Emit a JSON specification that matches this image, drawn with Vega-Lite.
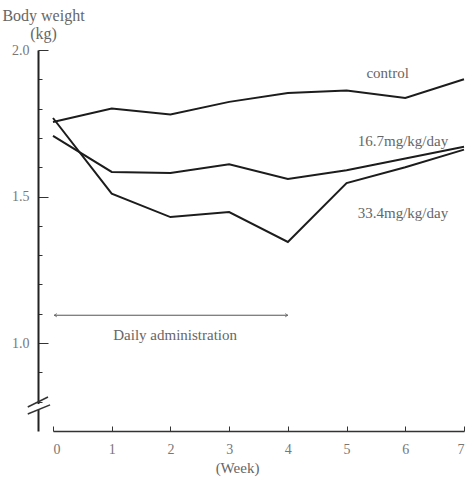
{
  "$schema": "https://vega.github.io/schema/vega-lite/v6.json",
  "width": 411,
  "height": 381,
  "autosize": "none",
  "padding": {"left": 53, "top": 50, "right": 1, "bottom": 50},
  "background": "white",
  "config": {
    "view": {"stroke": null},
    "font": "Liberation Serif",
    "text": {"font": "Liberation Serif", "color": "#666"}
  },
  "datasets": {
    "series": [
      {"week": 0, "bw": 1.754, "group": "control"},
      {"week": 1, "bw": 1.80, "group": "control"},
      {"week": 2, "bw": 1.78, "group": "control"},
      {"week": 3, "bw": 1.823, "group": "control"},
      {"week": 4, "bw": 1.853, "group": "control"},
      {"week": 5, "bw": 1.862, "group": "control"},
      {"week": 6, "bw": 1.836, "group": "control"},
      {"week": 7, "bw": 1.90, "group": "control"},
      {"week": 0, "bw": 1.707, "group": "16.7"},
      {"week": 1, "bw": 1.584, "group": "16.7"},
      {"week": 2, "bw": 1.58, "group": "16.7"},
      {"week": 3, "bw": 1.61, "group": "16.7"},
      {"week": 4, "bw": 1.56, "group": "16.7"},
      {"week": 5, "bw": 1.59, "group": "16.7"},
      {"week": 6, "bw": 1.63, "group": "16.7"},
      {"week": 7, "bw": 1.67, "group": "16.7"},
      {"week": 0, "bw": 1.768, "group": "33.4"},
      {"week": 1, "bw": 1.51, "group": "33.4"},
      {"week": 2, "bw": 1.43, "group": "33.4"},
      {"week": 3, "bw": 1.447, "group": "33.4"},
      {"week": 4, "bw": 1.345, "group": "33.4"},
      {"week": 5, "bw": 1.546, "group": "33.4"},
      {"week": 6, "bw": 1.60, "group": "33.4"},
      {"week": 7, "bw": 1.66, "group": "33.4"}
    ],
    "labels": [
      {"week": 5.7, "bw": 1.92, "label": "control"},
      {"week": 5.96, "bw": 1.69, "label": "16.7mg/kg/day"},
      {"week": 5.96, "bw": 1.444, "label": "33.4mg/kg/day"},
      {"week": 2.08, "bw": 1.027, "label": "Daily administration"}
    ],
    "arrow": [
      {"x1": 0.02, "x2": 4.0, "bw": 1.095}
    ],
    "heads": [
      {"week": 0.02, "bw": 1.095, "dir": "left"},
      {"week": 4.0, "bw": 1.095, "dir": "right"}
    ],
    "breakgap": [
      {"x": -0.2555, "y1": 0.772, "y2": 0.792}
    ],
    "slashes": [
      {"x1": -0.43, "x2": -0.085, "y1": 0.782, "y2": 0.816},
      {"x1": -0.43, "x2": -0.05, "y1": 0.758, "y2": 0.789}
    ]
  },
  "encoding": {},
  "layer": [
    {
      "data": {"name": "series"},
      "mark": {"type": "line", "color": "#1c1c1c", "strokeWidth": 2, "strokeJoin": "miter"},
      "encoding": {
        "x": {
          "field": "week", "type": "quantitative",
          "scale": {"domain": [0, 7], "nice": false, "zero": false},
          "axis": {
            "values": [0, 1, 2, 3, 4, 5, 6, 7],
            "tickCount": 20,
            "format": "d",
            "grid": false,
            "labelOverlap": false,
            "domainColor": "#333",
            "domainWidth": 1.5,
            "tickColor": "#333",
            "tickWidth": 1,
            "tickSize": -5,
            "labelPadding": 16,
            "labelFont": "Liberation Serif",
            "labelFontSize": 14,
            "labelColor": "#777",
            "title": "(Week)",
            "titleX": 184,
            "titleAlign": "center",
            "titleFont": "Liberation Serif",
            "titleFontSize": 15,
            "titleFontWeight": "normal",
            "titleColor": "#666",
            "titlePadding": 4
          }
        },
        "y": {
          "field": "bw", "type": "quantitative",
          "scale": {"domain": [0.7, 2.0], "nice": false, "zero": false},
          "axis": {
            "values": [0.8, 0.9, 1.0, 1.1, 1.2, 1.3, 1.4, 1.5, 1.6, 1.7, 1.8, 1.9, 2.0],
            "tickCount": 30,
            "labelExpr": "abs(datum.value*2 - round(datum.value*2)) < 0.01 ? format(datum.value, '.1f') : ''",
            "labelOverlap": false,
            "labelBound": false,
            "offset": 15,
            "grid": false,
            "domainColor": "#222",
            "domainWidth": 2,
            "tickColor": "#333",
            "tickWidth": 1,
            "tickSize": {"condition": {"test": "abs(datum.value*2 - round(datum.value*2)) < 0.01", "value": -10}, "value": -4},
            "labelPadding": 19,
            "labelFont": "Liberation Serif",
            "labelFontSize": 14,
            "labelColor": "#777",
            "title": ["Body weight", "(kg)"],
            "titleAngle": 0,
            "titleAlign": "center",
            "titleBaseline": "top",
            "titleX": 5,
            "titleY": -43,
            "titleLineHeight": 18,
            "titleFont": "Liberation Serif",
            "titleFontSize": 16,
            "titleFontWeight": "normal",
            "titleColor": "#666"
          }
        },
        "detail": {"field": "group"}
      }
    },
    {
      "data": {"name": "labels"},
      "mark": {"type": "text", "fontSize": 15, "color": "#666", "align": "center", "baseline": "middle"},
      "encoding": {
        "x": {"field": "week", "type": "quantitative"},
        "y": {"field": "bw", "type": "quantitative"},
        "text": {"field": "label"}
      }
    },
    {
      "data": {"name": "arrow"},
      "mark": {"type": "rule", "color": "#555", "strokeWidth": 1},
      "encoding": {
        "x": {"field": "x1", "type": "quantitative"},
        "x2": {"field": "x2"},
        "y": {"field": "bw", "type": "quantitative"}
      }
    },
    {
      "data": {"name": "heads"},
      "mark": {"type": "point", "filled": false, "color": "#555", "strokeWidth": 1, "size": 30},
      "encoding": {
        "x": {"field": "week", "type": "quantitative"},
        "y": {"field": "bw", "type": "quantitative"},
        "shape": {
          "field": "dir", "type": "nominal",
          "scale": {"domain": ["left", "right"], "range": ["M1,-0.6L0,0L1,0.6", "M-1,-0.6L0,0L-1,0.6"]},
          "legend": null
        }
      }
    },
    {
      "data": {"name": "breakgap"},
      "mark": {"type": "rule", "color": "white", "strokeWidth": 4},
      "encoding": {
        "x": {"field": "x", "type": "quantitative"},
        "y": {"field": "y1", "type": "quantitative"},
        "y2": {"field": "y2"}
      }
    },
    {
      "data": {"name": "slashes"},
      "mark": {"type": "rule", "color": "#333", "strokeWidth": 1.5},
      "encoding": {
        "x": {"field": "x1", "type": "quantitative"},
        "x2": {"field": "x2"},
        "y": {"field": "y1", "type": "quantitative"},
        "y2": {"field": "y2"}
      }
    }
  ]
}
